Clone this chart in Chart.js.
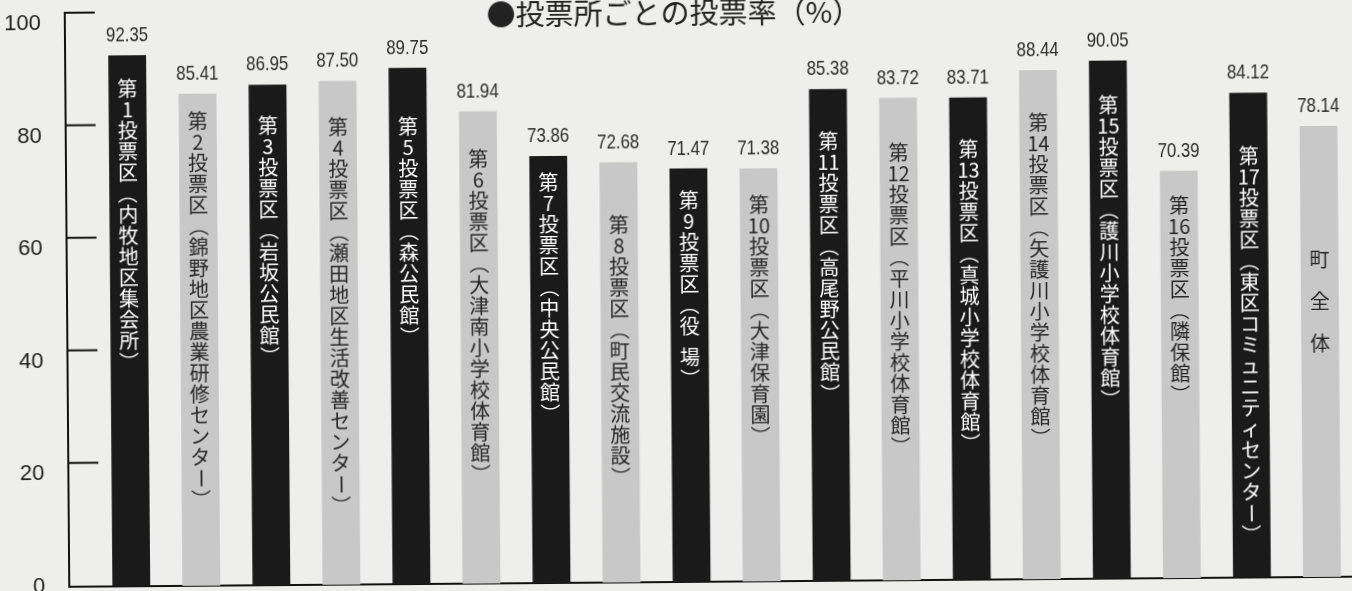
<!DOCTYPE html>
<html lang="ja">
<head>
<meta charset="utf-8">
<title>投票所ごとの投票率</title>
<script src="https://cdn.jsdelivr.net/npm/chart.js@4.4.1/dist/chart.umd.min.js"></script>
<style>
  html, body { margin: 0; padding: 0; background: #eeeeec; }
  #wrap { position: relative; width: 1352px; height: 591px; overflow: hidden; }
  /* the printed page was scanned slightly askew */
  #inner { width: 1352px; height: 591px; transform: rotate(-0.45deg); }
</style>
</head>
<body>
<div id="wrap"><div id="inner"><canvas id="turnoutChart"></canvas></div></div>
<script>
// data
const districts = [
    '第1投票区（内牧地区集会所）',
    '第2投票区（錦野地区農業研修センター）',
    '第3投票区（岩坂公民館）',
    '第4投票区（瀬田地区生活改善センター）',
    '第5投票区（森公民館）',
    '第6投票区（大津南小学校体育館）',
    '第7投票区（中央公民館）',
    '第8投票区（町民交流施設）',
    '第9投票区（役 場）',
    '第10投票区（大津保育園）',
    '第11投票区（高尾野公民館）',
    '第12投票区（平川小学校体育館）',
    '第13投票区（真城小学校体育館）',
    '第14投票区（矢護川小学校体育館）',
    '第15投票区（護川小学校体育館）',
    '第16投票区（隣保館）',
    '第17投票区（東区コミュニティセンター）',
    '町　全　体'
];
const turnout = [92.35, 85.41, 86.95, 87.50, 89.75, 81.94, 73.86, 72.68, 71.47,
                 71.38, 85.38, 83.72, 83.71, 88.44, 90.05, 70.39, 84.12, 78.14];
const yTicks = [0, 20, 40, 60, 80, 100];
const titleText = '●投票所ごとの投票率（%）';

// look
const DARK = '#1a1a1a';
const LIGHT = '#c8c8c8';
const PITCH = 21;               // step between stacked characters
const ROTATED = '（）ー';        // glyphs turned for vertical setting
// space between the top of each bar and its first character
const labelGaps = [23, 17, 30, 36, 48, 37, 16, 52, 21, 26, 42, 44, 41, 42, 34, 24, 53, 123];

function splitVertical(text) {
    return text.match(/[0-9]+|./gu);
}

const axisTicks = {
    id: 'axisTicks',
    afterDraw(chart) {
        const {ctx, chartArea, scales} = chart;
        ctx.save();
        ctx.strokeStyle = '#111';
        ctx.lineWidth = 2;
        scales.y.ticks.forEach(t => {
            if (t.value <= 0) return;
            const py = scales.y.getPixelForValue(t.value);
            ctx.beginPath();
            ctx.moveTo(chartArea.left - 1, py);
            ctx.lineTo(chartArea.left + 30, py);
            ctx.stroke();
        });
        ctx.restore();
    }
};

const barText = {
    id: 'barText',
    afterDatasetsDraw(chart) {
        const ctx = chart.ctx;
        const bars = chart.getDatasetMeta(0).data;
        ctx.save();
        ctx.textAlign = 'center';
        bars.forEach((bar, i) => {
            // value above the bar, narrow face
            ctx.save();
            ctx.font = '21px "Liberation Sans", Arial, sans-serif';
            ctx.fillStyle = '#2b2b2b';
            ctx.textBaseline = 'alphabetic';
            ctx.translate(bar.x, bar.y - 14);
            ctx.scale(0.8, 1);
            ctx.fillText(turnout[i].toFixed(2), 0, 0);
            ctx.restore();

            // district name, set vertically inside the bar
            ctx.font = '20px "Noto Sans CJK JP", sans-serif';
            ctx.fillStyle = i % 2 === 0 ? '#ffffff' : '#262626';
            ctx.textBaseline = 'middle';
            let y = bar.y + labelGaps[i];
            splitVertical(districts[i]).forEach(t => {
                if (t === ' ') { y += PITCH / 2; return; }
                const cy = y + PITCH / 2;
                if (ROTATED.includes(t)) {
                    ctx.save();
                    ctx.translate(bar.x, cy);
                    ctx.rotate(Math.PI / 2);
                    ctx.fillText(t, 0, 0);
                    ctx.restore();
                } else {
                    ctx.fillText(t, bar.x, cy);
                }
                y += PITCH;
            });
        });
        ctx.restore();
    }
};

new Chart(document.getElementById('turnoutChart'), {
    type: 'bar',
    data: {
        datasets: [{
            data: turnout.map((v, i) => ({x: i, y: v})),
            backgroundColor: turnout.map((v, i) => i % 2 === 0 ? DARK : LIGHT),
            base: -2,
            borderWidth: 0,
            categoryPercentage: 1,
            barPercentage: 0.54
        }]
    },
    options: {
        responsive: true,
        maintainAspectRatio: false,
        animation: false,
        layout: {padding: {top: 0, right: 0, bottom: 9, left: 0}},
        plugins: {
            legend: {display: false},
            tooltip: {enabled: false},
            title: {
                display: true,
                text: titleText,
                color: '#222',
                font: {family: '"Noto Sans CJK JP", sans-serif', size: 29, weight: 'normal', lineHeight: 1},
                padding: {top: -1.5, bottom: -19.5}
            }
        },
        scales: {
            x: {
                type: 'linear',
                offset: false,
                min: -0.886,
                max: 17.46,
                afterBuildTicks: axis => { axis.ticks = districts.map((d, i) => ({value: i})); },
                grid: {display: false, drawTicks: false, offset: false},
                ticks: {display: false},
                border: {display: true, color: '#111', width: 2}
            },
            y: {
                min: -2,
                max: 100,
                afterBuildTicks: axis => { axis.ticks = yTicks.map(v => ({value: v})); },
                afterFit: axis => { axis.width = 67; axis.paddingTop = 0; axis.paddingBottom = 0; },
                grid: {display: false, drawTicks: false},
                border: {display: true, color: '#111', width: 2},
                ticks: {
                    padding: 24,
                    labelOffset: 11,
                    color: '#222',
                    font: {family: '"Liberation Sans", Arial, sans-serif', size: 22}
                }
            }
        }
    },
    plugins: [axisTicks, barText]
});
</script>
</body>
</html>
